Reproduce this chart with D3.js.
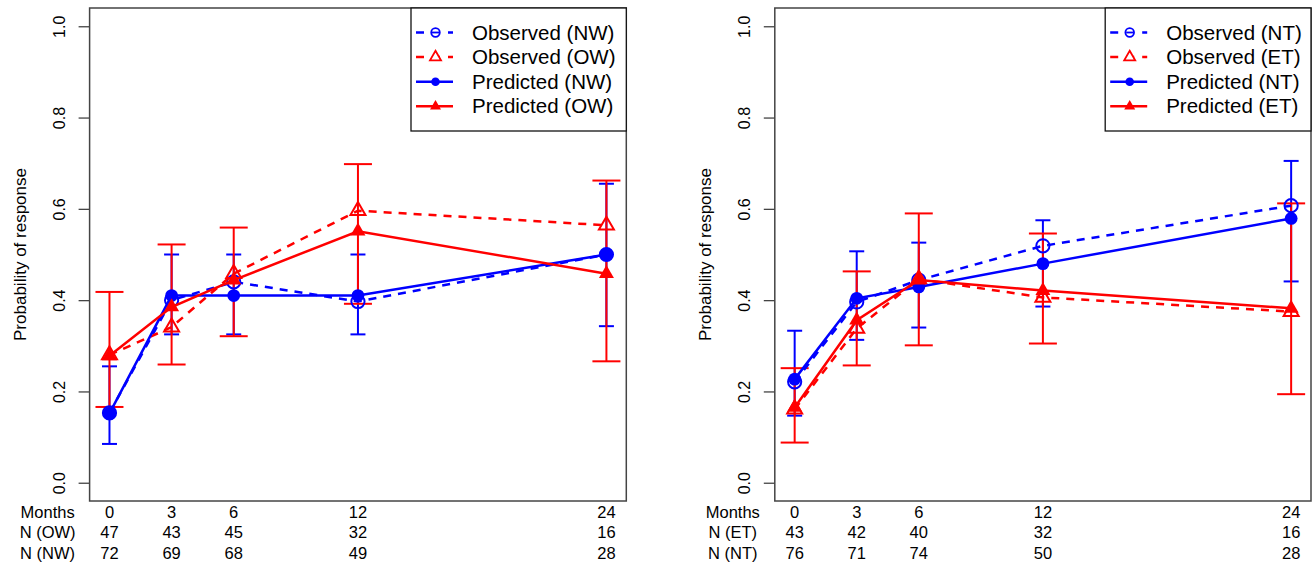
<!DOCTYPE html>
<html>
<head>
<meta charset="utf-8">
<script src="https://cdn.jsdelivr.net/npm/d3@7"></script>
<style>
  body { margin: 0; background: #fff; }
  text { font-family: "Liberation Sans", Arial, sans-serif; fill: #000; }
</style>
</head>
<body>
<svg id="chart" width="1314" height="564"></svg>
<script>
// Shared
const months = [0, 3, 6, 12, 24];
const yTicks = [0, 0.2, 0.4, 0.6, 0.8, 1.0];

// Left panel: NW (blue) vs OW (red)
const obsNW = [0.153, 0.400, 0.440, 0.397, 0.500];
const predNW = [0.152, 0.410, 0.410, 0.410, 0.500];
const loNW = [0.085, 0.325, 0.325, 0.325, 0.343];
const hiNW = [0.255, 0.500, 0.500, 0.500, 0.655];
const obsOW = [0.280, 0.341, 0.458, 0.596, 0.564];
const predOW = [0.278, 0.385, 0.444, 0.551, 0.458];
const loOW = [0.166, 0.259, 0.321, 0.392, 0.266];
const hiOW = [0.418, 0.522, 0.559, 0.698, 0.662];
const nOW = [47, 43, 45, 32, 16];
const nNW = [72, 69, 68, 49, 28];

// Right panel: NT (blue) vs ET (red)
const obsNT = [0.221, 0.396, 0.444, 0.519, 0.607];
const predNT = [0.227, 0.404, 0.429, 0.480, 0.579];
const loNT = [0.147, 0.313, 0.340, 0.386, 0.441];
const hiNT = [0.333, 0.507, 0.526, 0.575, 0.705];
const obsET = [0.161, 0.338, 0.446, 0.406, 0.375];
const predET = [0.165, 0.356, 0.444, 0.421, 0.382];
const loET = [0.088, 0.257, 0.301, 0.305, 0.194];
const hiET = [0.251, 0.463, 0.590, 0.546, 0.612];
const nET = [43, 42, 40, 32, 16];
const nNT = [76, 71, 74, 50, 28];

const BLUE = "#0000ff", RED = "#ff0000";
const svg = d3.select("#chart");
const tri = (s) => d3.symbol(d3.symbolTriangle, Math.sqrt(3) / 4 * s * s)();

function panel(opt) {
  const g = svg.append("g");
  const x = d3.scaleLinear().domain([-0.96, 24.96]).range([opt.left, opt.right]);
  const y = d3.scaleLinear().domain([-0.04, 1.04]).range([501, 8]);

  // y axis
  const yAxis = g.append("g").attr("transform", `translate(${opt.left},0)`)
    .call(d3.axisLeft(y).tickValues(yTicks).tickSize(11).tickFormat(d3.format(".1f")));
  yAxis.select(".domain").remove();
  yAxis.selectAll("line").attr("stroke", "#444").attr("stroke-width", 1.3);
  yAxis.selectAll("text")
    .attr("font-size", 16).attr("x", null).attr("dy", null)
    .attr("text-anchor", "middle")
    .attr("transform", "translate(-30,0) rotate(-90)")
    .attr("y", 0).attr("dy", "0.35em");

  g.append("text")
    .attr("transform", `translate(${opt.left - 64},${(8 + 501) / 2}) rotate(-90)`)
    .attr("text-anchor", "middle").attr("font-size", 17)
    .text("Probability of response");

  // error bars
  function bars(lo, hi, color, cap) {
    const b = g.append("g").attr("stroke", color).attr("stroke-width", 2);
    months.forEach((m, i) => {
      b.append("line").attr("x1", x(m)).attr("x2", x(m)).attr("y1", y(lo[i])).attr("y2", y(hi[i]));
      [lo[i], hi[i]].forEach(v => b.append("line")
        .attr("x1", x(m) - cap / 2).attr("x2", x(m) + cap / 2).attr("y1", y(v)).attr("y2", y(v)));
    });
  }
  bars(opt.bLo, opt.bHi, BLUE, 15);
  bars(opt.rLo, opt.rHi, RED, 28);

  const line = d3.line().x((d, i) => x(months[i])).y(d => y(d));
  function series(vals, color, dashed, shape, filled) {
    g.append("path").datum(vals).attr("d", line)
      .attr("fill", "none").attr("stroke", color).attr("stroke-width", 2.5)
      .attr("stroke-dasharray", dashed ? "8,7" : null);
    vals.forEach((v, i) => {
      if (shape === "circle") {
        g.append("circle").attr("cx", x(months[i])).attr("cy", y(v)).attr("r", filled ? 6.4 : 6.6)
          .attr("fill", filled ? color : "none").attr("stroke", color).attr("stroke-width", filled ? 0 : 2);
      } else {
        g.append("path").attr("d", tri(filled ? 15 : 15))
          .attr("transform", `translate(${x(months[i])},${y(v)})`)
          .attr("fill", filled ? color : "none").attr("stroke", color).attr("stroke-width", filled ? 0 : 2);
      }
    });
  }
  series(opt.bObs, BLUE, true, "circle", false);
  series(opt.rObs, RED, true, "triangle", false);
  series(opt.bPred, BLUE, false, "circle", true);
  series(opt.rPred, RED, false, "triangle", true);

  // frame
  g.append("rect").attr("x", opt.left).attr("y", 8)
    .attr("width", opt.right - opt.left).attr("height", 493)
    .attr("fill", "none").attr("stroke", "#444").attr("stroke-width", 1.5);

  // legend
  const lg = g.append("g");
  lg.append("rect").attr("x", opt.legLeft).attr("y", 8)
    .attr("width", opt.right - opt.legLeft).attr("height", 123)
    .attr("fill", "#fff").attr("stroke", "#111").attr("stroke-width", 1.3);
  const items = [
    { label: opt.labels[0], color: BLUE, dashed: true, shape: "circle", filled: false },
    { label: opt.labels[1], color: RED, dashed: true, shape: "triangle", filled: false },
    { label: opt.labels[2], color: BLUE, dashed: false, shape: "circle", filled: true },
    { label: opt.labels[3], color: RED, dashed: false, shape: "triangle", filled: true }
  ];
  items.forEach((it, i) => {
    const cy = 32.5 + i * 24.6;
    const x0 = opt.legLeft + 5;
    lg.append("line").attr("x1", x0).attr("x2", x0 + 37).attr("y1", cy).attr("y2", cy)
      .attr("stroke", it.color).attr("stroke-width", 2.5)
      .attr("stroke-dasharray", it.dashed ? "8,8" : null);
    if (it.shape === "circle") {
      lg.append("circle").attr("cx", x0 + 19.5).attr("cy", cy).attr("r", 4.3)
        .attr("fill", it.filled ? it.color : "#fff").attr("stroke", it.color).attr("stroke-width", it.filled ? 0 : 1.8);
      if (!it.filled) {
        lg.append("line").attr("x1", x0 + 16).attr("x2", x0 + 23).attr("y1", cy).attr("y2", cy)
          .attr("stroke", it.color).attr("stroke-width", 1.8);
      }
    } else {
      lg.append("path").attr("d", tri(11)).attr("transform", `translate(${x0 + 19.5},${cy})`)
        .attr("fill", it.filled ? it.color : "#fff").attr("stroke", it.color).attr("stroke-width", it.filled ? 0 : 1.8);
    }
    lg.append("text").attr("x", opt.legLeft + 61).attr("y", cy).attr("dy", "0.35em")
      .attr("font-size", 20.5).text(it.label);
  });

  // bottom table
  const rows = [
    { head: "Months", vals: months },
    { head: opt.nHeads[0], vals: opt.n1 },
    { head: opt.nHeads[1], vals: opt.n2 }
  ];
  const rowY = [512.3, 532.5, 552.8];
  rows.forEach((r, j) => {
    g.append("text").attr("x", opt.left - 42).attr("y", rowY[j]).attr("dy", "0.35em")
      .attr("text-anchor", "middle").attr("font-size", 16.5).text(r.head);
    r.vals.forEach((v, i) => g.append("text").attr("x", x(months[i])).attr("y", rowY[j]).attr("dy", "0.35em")
      .attr("text-anchor", "middle").attr("font-size", 16.5).text(v));
  });
}

panel({
  left: 89.6, right: 626.3, legLeft: 411,
  bObs: obsNW, bPred: predNW, bLo: loNW, bHi: hiNW,
  rObs: obsOW, rPred: predOW, rLo: loOW, rHi: hiOW,
  labels: ["Observed (NW)", "Observed (OW)", "Predicted (NW)", "Predicted (OW)"],
  nHeads: ["N (OW)", "N (NW)"], n1: nOW, n2: nNW
});
panel({
  left: 774.8, right: 1311, legLeft: 1105.2,
  bObs: obsNT, bPred: predNT, bLo: loNT, bHi: hiNT,
  rObs: obsET, rPred: predET, rLo: loET, rHi: hiET,
  labels: ["Observed (NT)", "Observed (ET)", "Predicted (NT)", "Predicted (ET)"],
  nHeads: ["N (ET)", "N (NT)"], n1: nET, n2: nNT
});
</script>
</body>
</html>
